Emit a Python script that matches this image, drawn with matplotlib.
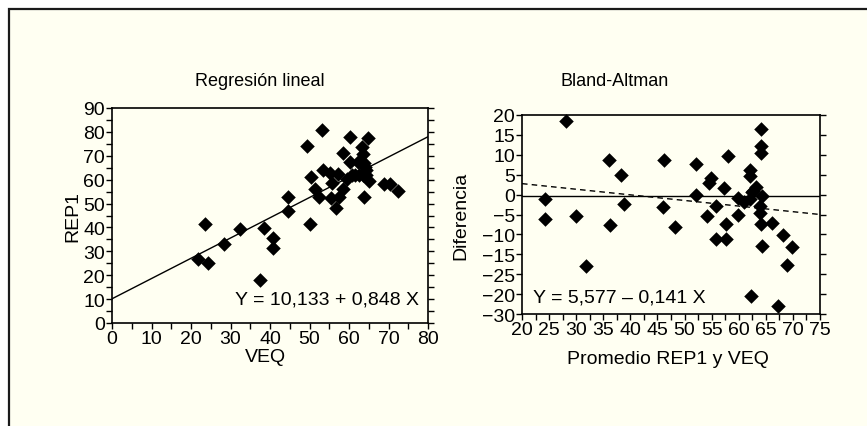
import matplotlib
matplotlib.use("Agg")
import matplotlib.pyplot as plt
from matplotlib.patches import Rectangle
from matplotlib.ticker import MultipleLocator, FixedLocator
import numpy as np

plt.rcParams['font.family'] = ['Liberation Sans Narrow', 'DejaVu Sans Condensed', 'Liberation Sans', 'DejaVu Sans']

# ---- Data: Regresión lineal ----
veq = [21.7, 23.5, 24.4, 28.3, 32.5, 37.5, 38.4, 40.7, 40.7, 44.6, 44.5, 49.3,
       50.1, 50.4, 51.4, 52.4, 53.1, 53.3, 55.1, 55.6, 55.4, 56.7, 57.3, 57.5,
       58.4, 58.6, 59.4, 60.3, 60.2, 60.7, 61.5, 62.3, 62.6, 63.4, 63.6, 63.7,
       63.6, 63.7, 64.7, 64.4, 65.1, 64.2, 68.9, 70.5, 72.3, 64.0]
rep1 = [26.6, 41.3, 25.1, 33.2, 39.5, 17.9, 39.9, 35.4, 31.6, 52.6, 46.8, 74.0,
        41.3, 61.0, 56.0, 52.8, 80.9, 64.0, 62.6, 58.4, 52.5, 48.3, 62.2, 52.8,
        55.9, 71.1, 60.1, 77.7, 67.5, 62.0, 62.0, 67.2, 62.0, 73.5, 70.7, 66.9,
        62.0, 52.9, 77.4, 64.0, 59.4, 61.9, 58.1, 58.1, 55.3, 65.1]
reg_intercept, reg_slope = 10.133, 0.848

# ---- Data: Bland-Altman ----
promedio = [24.3, 24.3, 28.1, 30.0, 31.9, 36.1, 36.2, 38.3, 38.9, 46.1, 46.2, 48.3,
            52.1, 52.1, 54.2, 54.5, 54.9, 55.8, 55.8, 57.2, 57.7, 57.7, 58.1, 59.8,
            59.8, 60.9, 62.0, 62.0, 62.0, 62.2, 62.4, 63.1, 62.7, 64.1, 64.1, 64.1,
            64.3, 64.0, 64.0, 64.1, 64.3, 66.2, 67.3, 68.2, 68.9, 69.9]
diferencia = [-1.1, -6.1, 18.6, -5.5, -17.9, 8.8, -7.6, 4.9, -2.3, -3.1, 8.8, -8.1,
              7.6, -0.1, -5.3, 2.9, 4.1, -2.9, -11.2, 1.6, -7.5, -11.2, 9.8, -0.9,
              -5.1, -1.9, 6.3, 4.6, -1.1, -25.6, 0.6, 1.8, 1.0, 16.6, 12.3, 10.4,
              -0.3, -2.9, -4.5, -7.4, -12.8, -7.2, -28.1, -10.1, -17.6, -13.2]
mean_diff = -0.3
ba_intercept, ba_slope = 5.577, -0.141
ba_yticks = [20, 15, 10, 5, 0, -5, -10, -15, -20, -25, -30]
ba_yticklabels = ['20', '15', '10', '5', '0', '\u22125', '\u221210', '\u221215',
                  '\u221225', '\u221220', '\u221230']
ba_xticks = [20, 25, 30, 35, 40, 45, 50, 55, 60, 65, 70, 75]

W, H = 867, 427
cream = '#fffff2'
fig = plt.figure(figsize=(W / 100, H / 100), dpi=100, facecolor='white')
fig.patches.append(Rectangle((8.5 / W, -0.1), 1.2, 1.1 - 9.5 / H, transform=fig.transFigure,
                             facecolor=cream, edgecolor='#1a1a1a', linewidth=1.6, zorder=-10))

def ax_rect(x0, y0, x1, y1):
    return [x0 / W, 1 - y1 / H, (x1 - x0) / W, (y1 - y0) / H]

fs = 14

def style(ax):
    ax.set_facecolor(cream)
    for s in ax.spines.values():
        s.set_linewidth(1.2)
        s.set_color('black')
    ax.tick_params(which='both', direction='out', length=4, width=1.0, labelsize=fs,
                   top=False, right=True, pad=1)
    ax.tick_params(which='minor', length=4)

# ---- Left ----
ax1 = fig.add_axes(ax_rect(112, 109, 428, 324))
style(ax1)
ax1.scatter(veq, rep1, marker='D', s=55, color='black', linewidths=0, zorder=3, clip_on=False)
xl = np.array([0, 80])
ax1.plot(xl, reg_intercept + reg_slope * xl, color='black', lw=1.0)
ax1.set_xlim(0, 80)
ax1.set_ylim(0, 90)
ax1.xaxis.set_major_locator(MultipleLocator(10))
ax1.xaxis.set_minor_locator(MultipleLocator(5))
ax1.yaxis.set_major_locator(MultipleLocator(10))
ax1.yaxis.set_minor_locator(MultipleLocator(5))
ax1.tick_params(axis='y', which='both', labelright=False)
ax1.text(0.97, 0.11, 'Y = 10,133 + 0,848 X', transform=ax1.transAxes, ha='right', va='center',
         fontsize=fs)
ax1.set_xlabel('VEQ', fontsize=fs)
ax1.set_ylabel('REP1', fontsize=fs)
ax1.xaxis.set_label_coords(0.485, -0.118)
ax1.yaxis.set_label_coords(-0.097, 0.5)
fig.text(260 / W, 1 - 82 / H, 'Regresión lineal', ha='center', va='center', fontsize=13)

# ---- Right ----
ax2 = fig.add_axes(ax_rect(522, 116, 820, 315))
style(ax2)
ax2.scatter(promedio, diferencia, marker='D', s=55, color='black', linewidths=0, zorder=3, clip_on=False)
xr = np.array([20, 75])
ax2.plot(xr, [mean_diff, mean_diff], color='black', lw=1.0)
ax2.plot(xr, ba_intercept + ba_slope * xr, color='black', lw=1.0, ls=(0, (4, 3)))
ax2.set_xlim(20, 75)
ax2.set_ylim(-30, 20)
ax2.xaxis.set_major_locator(FixedLocator(ba_xticks))
ax2.xaxis.set_minor_locator(MultipleLocator(2.5))
ax2.set_yticks(ba_yticks)
ax2.set_yticklabels(ba_yticklabels)
ax2.tick_params(axis='y', which='both', labelright=False)
ax2.text(0.037, 0.085, 'Y = 5,577 \u2013 0,141 X', transform=ax2.transAxes, ha='left', va='center',
         fontsize=fs)
ax2.set_xlabel('Promedio REP1 y VEQ', fontsize=fs)
ax2.set_ylabel('Diferencia', fontsize=fs)
ax2.xaxis.set_label_coords(0.49, -0.18)
ax2.yaxis.set_label_coords(-0.175, 0.5)
fig.text(615 / W, 1 - 82 / H, 'Bland-Altman', ha='center', va='center', fontsize=13)

fig.savefig('out.png', dpi=100, facecolor=fig.get_facecolor())
